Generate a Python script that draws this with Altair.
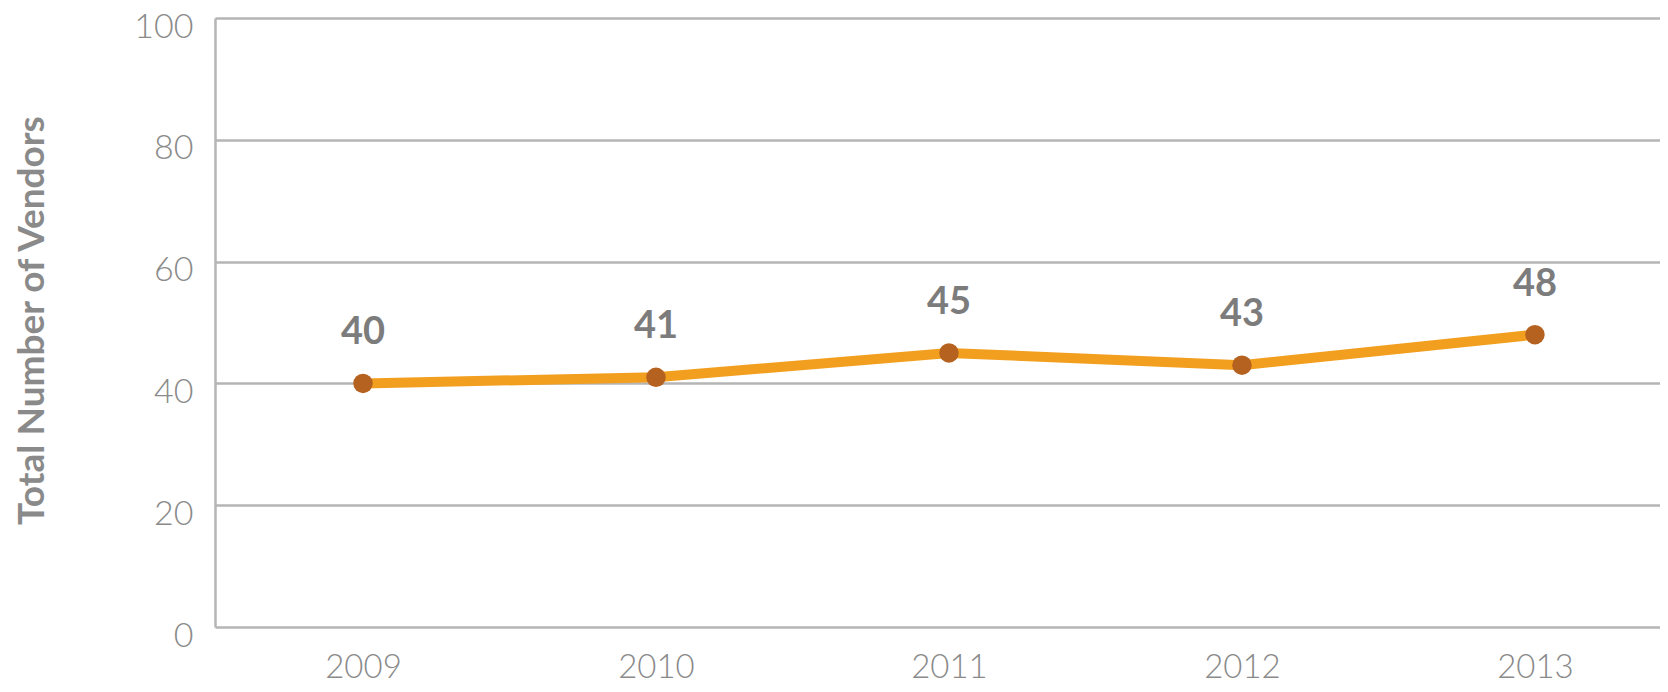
import altair as alt
import pandas as pd

years = ["2009", "2010", "2011", "2012", "2013"]
vendors = [40, 41, 45, 43, 48]
y_ticks = [0, 20, 40, 60, 80, 100]

df = pd.DataFrame({"year": years, "vendors": vendors})

FONT = "Lato"

x = alt.X("year:O", sort=years,
          scale=alt.Scale(type="point", padding=0.466, align=0.542),
          axis=alt.Axis(title=None, labelAngle=0, labelFontSize=33, labelColor="#8a8a8a",
                        labelFont=FONT, labelFontWeight=300, labelPadding=24,
                        ticks=False, domain=False, grid=False))
y = alt.Y("vendors:Q", scale=alt.Scale(domain=[0, 100]),
          axis=alt.Axis(values=y_ticks, title="Total Number of Vendors", titleFontSize=37,
                        titleFont=FONT, titleFontWeight="bold", titleColor="#8a8a8a",
                        titleX=-183, titleY=302, titleAngle=-90, titleAlign="center",
                        titleBaseline="middle",
                        labelFontSize=34, labelColor="#8a8a8a", labelFont=FONT,
                        labelFontWeight=300, labelPadding=22, labelOffset=9,
                        ticks=False, domain=True, domainColor="#b5b5b5", domainWidth=2.5,
                        grid=True, gridColor="#b5b5b5", gridWidth=2.5))

base = alt.Chart(df).encode(x=x, y=y)

line = base.mark_line(color="#F29E1E", strokeWidth=10)
pts = base.mark_point(filled=True, color="#B5611F", size=380, opacity=1)
labels = base.mark_text(dy=-50, fontSize=38, fontWeight="bold", color="#7c7c7c", font=FONT).encode(
    text="vendors:Q")

chart = (line + pts + labels).properties(
    width=1445, height=609,
    autosize=alt.AutoSizeParams(type="none"),
    padding={"left": 207, "top": 10, "right": 0, "bottom": 57},
).configure_view(stroke=None)

chart.save("out.html", embed_options={"renderer": "svg", "actions": False})
